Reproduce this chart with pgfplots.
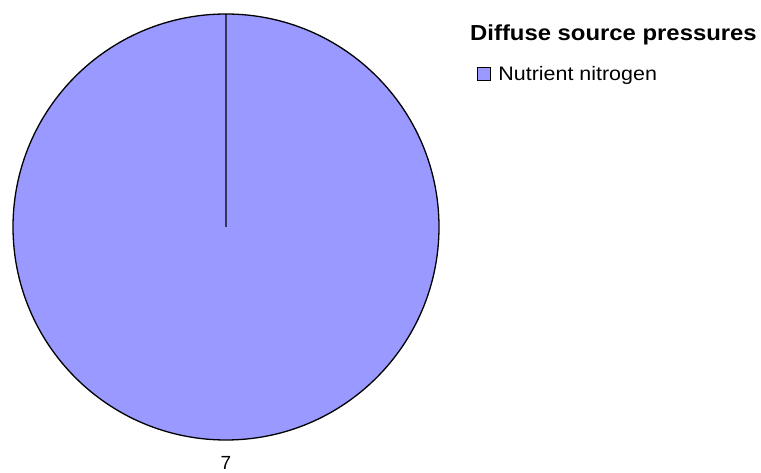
\documentclass[border=0pt]{standalone}
\usepackage{pgfplots}
\usepackage{pgfplotstable}
\pgfplotsset{compat=1.18}
\usepackage{fontspec}
\setmainfont{Liberation Sans}
\definecolor{pie}{HTML}{9999FF}
\pgfplotstableread{
label value
{Nutrient nitrogen} 7
}\datatable
\begin{document}
\begin{tikzpicture}
\begin{axis}[
  width=761pt, height=472pt, scale only axis,
  xmin=0, xmax=761, ymin=0, ymax=472,
  hide axis, clip=false,
  legend style={at={(axis cs:477,398)}, anchor=west, draw=none, fill=none, inner sep=0pt,
    font=\fontsize{19.5}{22}\selectfont, cells={anchor=west}},
  legend cell align=left,
  legend image code/.code={\draw[#1] (0pt,-6.5pt) rectangle (13pt,6.5pt);},
]
\addlegendimage{fill=pie, draw=black, line width=1.2pt}
\addlegendentry{\hspace{5pt}\scalebox{1.1}[1]{Nutrient nitrogen}}
\path (axis cs:0,0) rectangle (axis cs:761,472);
\node[anchor=west, inner sep=0pt, font=\fontsize{21.7}{24}\selectfont\bfseries]
  at (axis cs:470,437) {\scalebox{1.1}[1]{Diffuse source pressures}};
\pgfplotstablegetelem{0}{value}\of\datatable
\let\pieval\pgfplotsretval
\pgfmathsetmacro{\ang}{360*\pieval/7}
\filldraw[fill=pie, draw=black, line width=1.3pt]
  (axis cs:226,245) -- ++(90:213pt) arc[start angle=90, end angle=90-\ang, radius=213pt] -- cycle;
\node[font=\fontsize{19}{20}\selectfont] at (axis cs:226,9) {\pieval};
\end{axis}
\end{tikzpicture}
\end{document}
